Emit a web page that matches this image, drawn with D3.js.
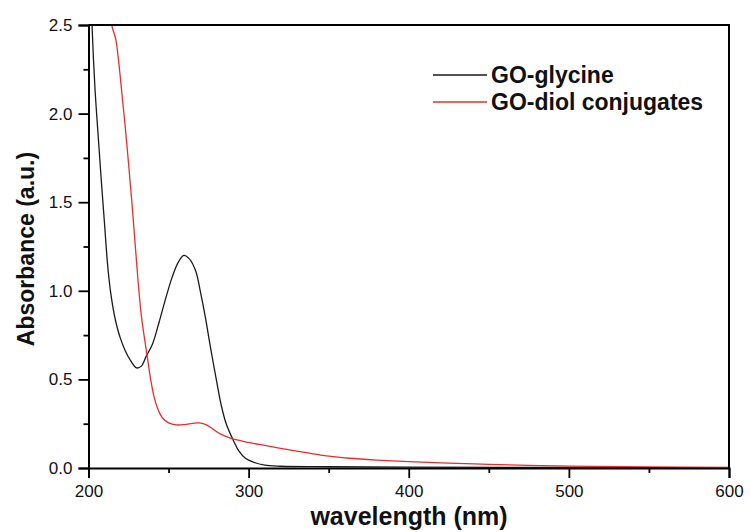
<!DOCTYPE html>
<html><head><meta charset="utf-8">
<script src="https://cdn.jsdelivr.net/npm/d3@7"></script>
<style>
html,body{margin:0;padding:0;background:#fff;}
svg{display:block;font-family:"Liberation Sans",Arial,sans-serif;}
</style></head>
<body>
<svg id="chart" width="750" height="532"></svg>
<script>
// ---- data ----
const seriesNames = ["GO-glycine", "GO-diol conjugates"];
const seriesColors = ["#1a1a1a", "#ee2b2b"];

const glycineWavelength = [200,202,204,206,208,210,212,214,216,218,220,223,226,230,233,236,240,244,248,252,256,259.5,263,267,270,273,276,280,283,286,290,294,298,303,310,320,350,400,500,600];
const glycineAbsorbance = [3.3,2.55,2.15,1.88,1.62,1.38,1.14,0.98,0.87,0.79,0.73,0.66,0.61,0.565,0.575,0.63,0.70,0.82,0.95,1.07,1.16,1.20,1.18,1.11,0.99,0.85,0.69,0.49,0.35,0.25,0.165,0.095,0.055,0.033,0.016,0.01,0.007,0.005,0.003,0.002];

const diolWavelength = [210,214.5,217,219,221,223,225,227,229,231,233,235,237,239,241,243,246,250,255,260,265,269,273,277,281,285,290,296,303,310,320,332,345,353,363,380,400,425,450,475,500,550,600];
const diolAbsorbance = [2.85,2.5,2.42,2.28,2.1,1.92,1.72,1.51,1.28,1.05,0.86,0.73,0.61,0.49,0.40,0.34,0.285,0.255,0.243,0.245,0.252,0.255,0.246,0.224,0.199,0.181,0.165,0.152,0.139,0.128,0.111,0.092,0.073,0.064,0.055,0.045,0.036,0.028,0.021,0.015,0.011,0.006,0.003];

const xMajorTicks = [200,300,400,500,600];
const xMinorTicks = [250,350,450,550];
const yMajorTicks = [0,0.5,1.0,1.5,2.0,2.5];
const yMinorTicks = [0.25,0.75,1.25,1.75,2.25];

const xTitle = "wavelength (nm)";
const yTitle = "Absorbance (a.u.)";

// ---- layout ----
(function draw(){
const svg = d3.select("#chart");
const pL = 88.5, pR = 729, pT = 25, pB = 468;
const x = d3.scaleLinear().domain([200,600]).range([pL,pR]);
const y = d3.scaleLinear().domain([0,2.5]).range([pB,pT]);

svg.append("defs").append("clipPath").attr("id","clip")
  .append("rect").attr("x",pL).attr("y",pT).attr("width",pR-pL).attr("height",pB-pT);

const series = [
  {name: seriesNames[0], color: seriesColors[0], pts: glycineWavelength.map((w,i)=>[w, glycineAbsorbance[i]])},
  {name: seriesNames[1], color: seriesColors[1], pts: diolWavelength.map((w,i)=>[w, diolAbsorbance[i]])}
];
const line = d3.line().x(d=>x(d[0])).y(d=>y(d[1])).curve(d3.curveCatmullRom.alpha(0.5));
svg.append("g").attr("clip-path","url(#clip)")
  .selectAll("path").data(series).join("path")
  .attr("d", d=>line(d.pts)).attr("fill","none")
  .attr("stroke", d=>d.color).attr("stroke-width",1.3).attr("stroke-linejoin","round");

// frame (top & right)
svg.append("path")
  .attr("d", `M${pL},${pT}H${pR}V${pB}`)
  .attr("fill","none").attr("stroke","#000").attr("stroke-width",2);

// axes
svg.append("g").attr("transform",`translate(0,${pB})`)
  .call(d3.axisBottom(x).tickValues(xMajorTicks).tickSize(10).tickPadding(7).tickFormat(d3.format("d")));
svg.append("g").attr("transform",`translate(0,${pB})`)
  .call(d3.axisBottom(x).tickValues(xMinorTicks).tickSize(5).tickFormat(""))
  .call(g=>g.select(".domain").remove());
svg.append("g").attr("transform",`translate(${pL},0)`)
  .call(d3.axisLeft(y).tickValues(yMajorTicks).tickSize(10).tickPadding(6).tickFormat(d3.format(".1f")));
svg.append("g").attr("transform",`translate(${pL},0)`)
  .call(d3.axisLeft(y).tickValues(yMinorTicks).tickSize(5).tickFormat(""))
  .call(g=>g.select(".domain").remove());

svg.selectAll(".domain").attr("stroke","#000").attr("stroke-width",2);
svg.selectAll(".tick line").attr("stroke","#000").attr("stroke-width",1.8);
svg.selectAll(".tick text").attr("font-size",17).attr("fill","#111")
  .attr("font-family","'Liberation Sans',Arial,sans-serif");

// titles
svg.append("text").attr("x",409).attr("y",525).attr("text-anchor","middle")
  .attr("font-size",25).attr("font-weight","bold").attr("fill","#111").text(xTitle);
svg.append("text").attr("transform","translate(34,249) rotate(-90)").attr("text-anchor","middle")
  .attr("font-size",23).attr("font-weight","bold").attr("fill","#111").text(yTitle);

// legend
const leg = svg.append("g");
series.forEach((s,i)=>{
  const ly = 75 + i*27;
  leg.append("line").attr("x1",433).attr("x2",487).attr("y1",ly).attr("y2",ly)
    .attr("stroke",s.color).attr("stroke-width",1.3);
  leg.append("text").attr("x",491).attr("y",ly).attr("dy","0.35em")
    .attr("font-size",23).attr("font-weight","bold").attr("fill","#111").text(s.name);
});
})();
</script>
</body></html>
